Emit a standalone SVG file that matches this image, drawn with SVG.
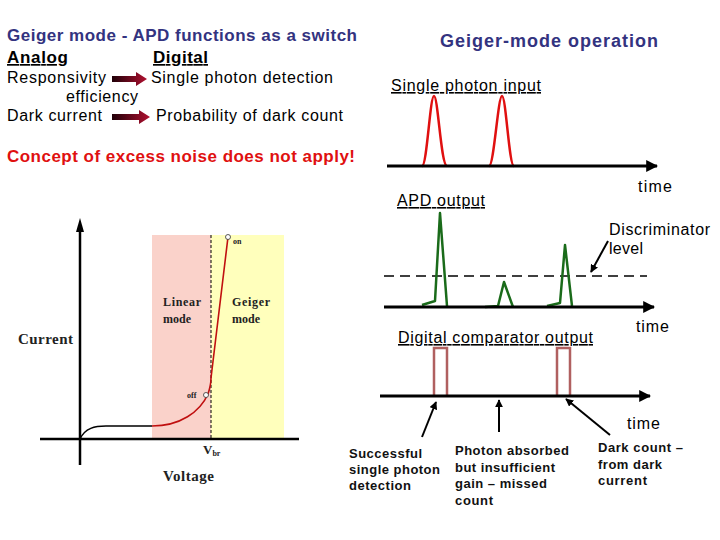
<svg xmlns="http://www.w3.org/2000/svg" width="720" height="540" viewBox="0 0 720 540">
<style>
.t{font-family:"Liberation Sans",Arial,sans-serif;fill:#000}
.h{font-family:"Liberation Sans",Arial,sans-serif;font-weight:bold;fill:#333380}
.s{font-family:"Liberation Serif","Times New Roman",serif;font-weight:bold;fill:#222}
.ax{stroke:#000;stroke-width:3;fill:none}
.lbl{font-family:"Liberation Sans",Arial,sans-serif;font-weight:bold;font-size:13px;fill:#111}
</style>
<defs>
<linearGradient id="ga" x1="0" x2="1" y1="0" y2="0"><stop offset="0" stop-color="#200008"/><stop offset="1" stop-color="#b01030"/></linearGradient>
<marker id="ah" viewBox="0 0 10 10" refX="9" refY="5" markerWidth="4" markerHeight="4" orient="auto"><path d="M0,0 L10,5 L0,10 Z" fill="#000"/></marker>
<marker id="ah2" viewBox="0 0 10 10" refX="9" refY="5" markerWidth="4" markerHeight="4" orient="auto"><path d="M0,0 L10,5 L0,10 Z" fill="#000"/></marker>
</defs>

<g id="left-text">
<text class="h" x="7" y="41" font-size="17" textLength="350">Geiger mode - APD functions as a switch</text>
<text class="t" x="7" y="63" font-size="17" font-weight="bold" text-decoration="underline" textLength="61">Analog</text>
<text class="t" x="153" y="63" font-size="17" font-weight="bold" text-decoration="underline" textLength="55">Digital</text>
<text class="t" x="7" y="83" font-size="16" textLength="99">Responsivity</text>
<text class="t" x="151" y="83" font-size="16" textLength="182">Single photon detection</text>
<text class="t" x="66" y="102" font-size="16" textLength="72">efficiency</text>
<text class="t" x="7" y="121" font-size="16" textLength="95">Dark current</text>
<text class="t" x="156" y="121" font-size="16" textLength="187">Probability of dark count</text>
<path d="M112,76 L136,76 L136,72 L147,79 L136,86 L136,82 L112,82 Z" fill="url(#ga)"/>
<path d="M112,114 L139,114 L139,110 L150,117 L139,124 L139,120 L112,120 Z" fill="url(#ga)"/>
<text x="7" y="162" font-size="17" font-weight="bold" fill="#e01010" font-family="Liberation Sans, Arial, sans-serif" textLength="348">Concept of excess noise does not apply!</text>
</g>

<g id="iv-graph">
<rect x="152" y="235" width="59" height="204" fill="#fad2ca"/>
<rect x="211" y="235" width="73" height="204" fill="#ffffbc"/>
<line x1="211" y1="235" x2="211" y2="439" stroke="#000" stroke-width="1" stroke-dasharray="3,2"/>
<line x1="80" y1="465" x2="80" y2="230" stroke="#000" stroke-width="2.5"/>
<path d="M80,218 L76,232 L84,232 Z" fill="#000"/>
<line x1="40" y1="439" x2="299" y2="439" stroke="#000" stroke-width="2.5"/>
<path d="M80,439 C85,428 95,426 106,426 L152,426" fill="none" stroke="#000" stroke-width="1.5"/>
<path d="M152,426 C180,426 200,412 208,394 C210,388 211,383 211,378 L228,237" fill="none" stroke="#c01010" stroke-width="1.6"/>
<circle cx="206" cy="395" r="2.5" fill="#fff" stroke="#333" stroke-width="0.8"/>
<circle cx="228" cy="237" r="2.5" fill="#fff" stroke="#333" stroke-width="0.8"/>
<text class="s" x="233" y="244" font-size="8">on</text>
<text class="s" x="187" y="398" font-size="8">off</text>
<text class="s" x="163" y="306" font-size="12" textLength="38">Linear</text>
<text class="s" x="163" y="323" font-size="12">mode</text>
<text class="s" x="232" y="306" font-size="12" textLength="38">Geiger</text>
<text class="s" x="232" y="323" font-size="12">mode</text>
<text class="s" x="18" y="344" font-size="15" textLength="55">Current</text>
<text class="s" x="163" y="481" font-size="15" textLength="51">Voltage</text>
<text class="s" x="203" y="454" font-size="13">V<tspan font-size="8" dy="2">br</tspan></text>
</g>

<g id="right-title">
<text class="h" x="440" y="47" font-size="18" textLength="218">Geiger-mode operation</text>
</g>

<g id="photon-input">
<text class="t" x="391" y="91" font-size="16" text-decoration="underline" textLength="150">Single photon input</text>
<path d="M422,166 C427,166 430,96 434,96 C438,96 441,166 447,166" fill="none" stroke="#e01010" stroke-width="2.5"/>
<path d="M489,166 C494,166 498,96 502,96 C506,96 509,166 514,166" fill="none" stroke="#e01010" stroke-width="2.5"/>
</g>

<g id="apd-output">
<text class="t" x="397" y="206" font-size="16" text-decoration="underline" textLength="88">APD output</text>
<line x1="384" y1="276" x2="647" y2="276" stroke="#000" stroke-width="1.3" stroke-dasharray="10,6"/>
<path d="M422,305 L435,301 L440,213 L447,306" fill="none" stroke="#1a6b1a" stroke-width="2.5" stroke-linejoin="round"/>
<path d="M485,307 L498,306 L504,282 L513,307" fill="none" stroke="#1a6b1a" stroke-width="2.5" stroke-linejoin="round"/>
<path d="M547,306 L560,303 L565,245 L572,306" fill="none" stroke="#1a6b1a" stroke-width="2.5" stroke-linejoin="round"/>
<text class="t" x="609" y="235" font-size="16" textLength="101">Discriminator</text>
<text class="t" x="609" y="254" font-size="16" textLength="34">level</text>
<text class="t" x="636" y="332" font-size="16" textLength="33">time</text>
</g>

<g id="comparator-output">
<text class="t" x="398" y="343" font-size="16" text-decoration="underline" textLength="195">Digital comparator output</text>
<path d="M434,396 L434,348 L447,348 L447,396" fill="none" stroke="#b06060" stroke-width="2.5"/>
<path d="M557,396 L557,348 L570,348 L570,396" fill="none" stroke="#b06060" stroke-width="2.5"/>
<text class="t" x="627" y="429" font-size="16" textLength="33">time</text>
<text class="lbl" x="349" y="458" textLength="73">Successful</text>
<text class="lbl" x="349" y="474" textLength="91">single photon</text>
<text class="lbl" x="349" y="490" textLength="62">detection</text>
<text class="lbl" x="455" y="455" textLength="114">Photon absorbed</text>
<text class="lbl" x="455" y="472" textLength="100">but insufficient</text>
<text class="lbl" x="455" y="488" textLength="92">gain – missed</text>
<text class="lbl" x="455" y="505" textLength="38">count</text>
<text class="lbl" x="598" y="452" textLength="85">Dark count –</text>
<text class="lbl" x="598" y="469" textLength="64">from dark</text>
<text class="lbl" x="598" y="485" textLength="49">current</text>
<text class="t" x="638" y="192" font-size="16" textLength="34">time</text>
</g>

<g id="connectors">
<line x1="387" y1="166" x2="657" y2="166" class="ax" marker-end="url(#ah)"/>
<line x1="384" y1="307" x2="654" y2="307" class="ax" marker-end="url(#ah)"/>
<line x1="380" y1="396" x2="650" y2="396" class="ax" marker-end="url(#ah)"/>
<line x1="608" y1="241" x2="591" y2="272" stroke="#000" stroke-width="2" marker-end="url(#ah2)"/>
<line x1="422" y1="437" x2="436" y2="402" stroke="#000" stroke-width="2" marker-end="url(#ah2)"/>
<line x1="499" y1="432" x2="499" y2="400" stroke="#000" stroke-width="2" marker-end="url(#ah2)"/>
<line x1="610" y1="435" x2="566" y2="399" stroke="#000" stroke-width="2" marker-end="url(#ah2)"/>
</g>
</svg>
